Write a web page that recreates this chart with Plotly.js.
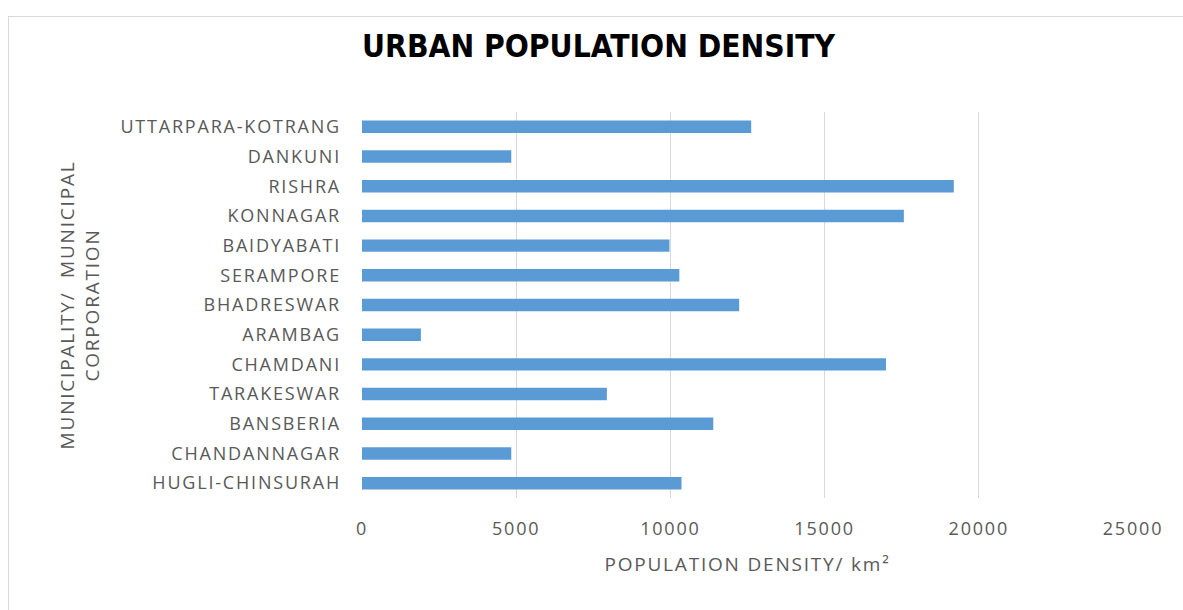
<!DOCTYPE html>
<html>
<head>
<meta charset="utf-8">
<script src="https://cdn.plot.ly/plotly-3.0.1.min.js"></script>
<style>
  html, body { margin: 0; padding: 0; background: #ffffff; }
  #frame { position: absolute; left: 8px; top: 16px; width: 1190px; height: 610px; border: 1px solid #d9d9d9; box-sizing: border-box; }
  #chart { position: absolute; left: 0; top: 0; width: 1183px; height: 610px; }
  #chart .ytick text, #chart .xtick text, #chart .g-xtitle text, #chart .g-ytitle text { letter-spacing: 1.8px; }
</style>
</head>
<body>
<div id="frame"></div>
<div id="chart"></div>
<script>
// Categories listed bottom to top (as drawn on the y axis)
const municipalities = [
  "HUGLI-CHINSURAH",
  "CHANDANNAGAR",
  "BANSBERIA",
  "TARAKESWAR",
  "CHAMDANI",
  "ARAMBAG",
  "BHADRESWAR",
  "SERAMPORE",
  "BAIDYABATI",
  "KONNAGAR",
  "RISHRA",
  "DANKUNI",
  "UTTARPARA-KOTRANG"
];
const densityPerKm2 = [10360, 4840, 11390, 7940, 16990, 1910, 12230, 10290, 9970, 17570, 19190, 4840, 12620];
const xTickValues = [0, 5000, 10000, 15000, 20000, 25000];

const textFont = "'Open Sans', 'Noto Sans', sans-serif";
const textColor = "#595959";

const trace = {
  type: "bar",
  orientation: "h",
  x: densityPerKm2,
  y: municipalities,
  marker: { color: "#5b9bd5", line: { width: 0 } },
  hoverinfo: "x+y"
};

const layout = {
  width: 1183,
  height: 610,
  paper_bgcolor: "rgba(0,0,0,0)",
  plot_bgcolor: "rgba(0,0,0,0)",
  margin: { l: 362, r: 50, t: 112, b: 112 },
  bargap: 0.58,
  showlegend: false,
  title: {
    text: "<b>URBAN POPULATION DENSITY</b>",
    x: 0.506, xref: "container", xanchor: "center",
    y: 0.924, yref: "container", yanchor: "middle",
    font: { family: "'Liberation Sans Narrow', 'DejaVu Sans Condensed', 'Roboto', sans-serif", size: 31.5, color: "#000000" }
  },
  xaxis: {
    range: [0, 25000],
    tickvals: xTickValues,
    ticktext: xTickValues.map(String),
    showgrid: true,
    gridcolor: "#d9d9d9",
    gridwidth: 1,
    zeroline: false,
    showline: false,
    ticks: "",
    ticklabelstandoff: 18,
    tickfont: { family: textFont, size: 18, color: textColor },
    title: {
      text: "POPULATION DENSITY/ km²",
      standoff: 18,
      font: { family: textFont, size: 19, color: textColor }
    },
    automargin: false
  },
  yaxis: {
    type: "category",
    categoryorder: "array",
    categoryarray: municipalities,
    showgrid: false,
    zeroline: false,
    showline: false,
    ticks: "",
    ticklabelstandoff: 20,
    tickfont: { family: textFont, size: 18, color: textColor },
    title: {
      text: "MUNICIPALITY/  MUNICIPAL<br>CORPORATION",
      standoff: 46,
      font: { family: textFont, size: 19, color: textColor }
    },
    automargin: false
  }
};

Plotly.newPlot("chart", [trace], layout, { displayModeBar: false });
</script>
</body>
</html>
